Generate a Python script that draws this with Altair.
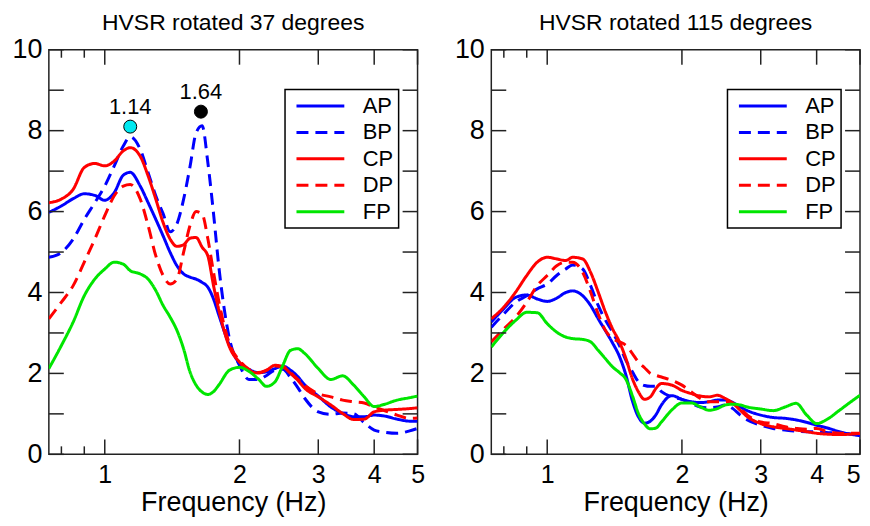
import altair as alt
import pandas as pd

FREQ = [0.75, 0.8, 0.85, 0.9, 0.95, 1.0, 1.05, 1.1, 1.14, 1.2, 1.25, 1.3, 1.35, 1.4,
        1.45, 1.5, 1.55, 1.6, 1.65, 1.7, 1.75, 1.8, 1.9, 2.0, 2.1, 2.2, 2.3, 2.4, 2.5,
        2.6, 2.7, 2.8, 3.0, 3.2, 3.4, 3.6, 3.8, 4.0, 4.2, 4.5, 4.8, 5.0]

SERIES = ["AP", "BP", "CP", "DP", "FP"]
COLORS = ["#0000ff", "#0000ff", "#ff0000", "#ff0000", "#00e600"]
DASHES = [[1, 0], [12, 7], [1, 0], [12, 7], [1, 0]]

# HVSR rotated 37 degrees
AP_37 = [5.98, 6.14, 6.32, 6.44, 6.40, 6.28, 6.47, 6.90, 6.97, 6.63, 6.22, 5.81, 5.40, 4.99,
         4.66, 4.46, 4.38, 4.33, 4.25, 4.13, 3.84, 3.43, 2.69, 2.25, 2.10, 2.02, 2.04, 2.12, 2.18,
         2.08, 1.92, 1.71, 1.44, 1.17, 1.01, 0.93, 0.93, 0.97, 0.95, 0.87, 0.82, 0.82]
BP_37 = [4.87, 4.99, 5.32, 5.81, 6.22, 6.63, 7.13, 7.62, 7.85, 7.54, 6.96, 6.39, 5.95, 5.50,
         5.70, 6.30, 7.10, 7.95, 8.12, 7.20, 5.95, 4.60, 2.85, 2.20, 1.85, 1.85, 1.95, 2.08, 2.10,
         1.90, 1.65, 1.38, 1.05, 0.99, 1.02, 1.00, 0.78, 0.60, 0.55, 0.52, 0.58, 0.64]
CP_37 = [6.22, 6.31, 6.55, 7.09, 7.19, 7.13, 7.25, 7.50, 7.58, 7.37, 6.88, 6.31, 5.73, 5.32,
         5.14, 5.18, 5.34, 5.36, 5.12, 4.90, 4.17, 3.55, 2.65, 2.28, 2.08, 2.01, 2.08, 2.20, 2.16,
         2.00, 1.83, 1.63, 1.42, 1.22, 1.01, 0.86, 0.87, 1.05, 1.09, 1.11, 1.13, 1.15]
DP_37 = [3.35, 3.76, 4.17, 4.75, 5.32, 5.90, 6.39, 6.63, 6.67, 6.31, 5.65, 4.91, 4.42, 4.21,
         4.33, 4.99, 5.65, 6.00, 5.94, 5.32, 4.50, 3.76, 2.73, 2.32, 2.10, 2.02, 2.08, 2.18, 2.17,
         2.02, 1.85, 1.70, 1.50, 1.42, 1.34, 1.30, 1.27, 1.17, 1.09, 0.97, 0.89, 0.90]
FP_37 = [2.12, 2.69, 3.27, 3.92, 4.33, 4.58, 4.75, 4.70, 4.54, 4.46, 4.33, 4.05, 3.68, 3.39,
         3.06, 2.61, 2.04, 1.71, 1.54, 1.48, 1.55, 1.72, 2.08, 2.15, 2.05, 1.87, 1.68, 1.79, 2.20,
         2.57, 2.61, 2.49, 2.12, 1.85, 1.94, 1.71, 1.42, 1.18, 1.23, 1.34, 1.40, 1.44]

# HVSR rotated 115 degrees
AP_115 = [3.27, 3.60, 3.88, 3.94, 3.84, 3.78, 3.86, 4.00, 4.04, 3.92, 3.68, 3.35, 3.05, 2.75,
          2.42, 1.95, 1.32, 0.92, 0.77, 0.82, 0.98, 1.22, 1.45, 1.36, 1.30, 1.28, 1.30, 1.34, 1.34,
          1.28, 1.17, 1.08, 0.97, 0.91, 0.89, 0.85, 0.79, 0.72, 0.66, 0.56, 0.49, 0.46]
BP_115 = [3.14, 3.47, 3.76, 3.92, 4.09, 4.21, 4.42, 4.58, 4.68, 4.58, 4.17, 3.68, 3.31, 3.02,
          2.69, 2.32, 2.04, 1.79, 1.70, 1.68, 1.68, 1.55, 1.42, 1.36, 1.26, 1.17, 1.15, 1.17, 1.22,
          1.13, 0.97, 0.85, 0.72, 0.64, 0.60, 0.57, 0.56, 0.56, 0.54, 0.52, 0.50, 0.48]
CP_115 = [3.35, 3.64, 4.01, 4.42, 4.75, 4.87, 4.83, 4.79, 4.87, 4.83, 4.50, 4.01, 3.51, 3.10,
          2.78, 2.36, 1.87, 1.54, 1.36, 1.42, 1.63, 1.75, 1.71, 1.58, 1.50, 1.44, 1.42, 1.46, 1.38,
          1.26, 1.09, 0.93, 0.76, 0.68, 0.64, 0.60, 0.56, 0.52, 0.50, 0.49, 0.50, 0.52]
DP_115 = [2.78, 3.10, 3.39, 3.76, 4.17, 4.42, 4.66, 4.75, 4.75, 4.50, 4.01, 3.47, 3.06, 2.86,
          2.78, 2.69, 2.49, 2.28, 2.14, 2.00, 1.95, 1.91, 1.83, 1.71, 1.54, 1.38, 1.30, 1.30, 1.30,
          1.26, 1.13, 0.97, 0.80, 0.76, 0.68, 0.64, 0.62, 0.64, 0.57, 0.52, 0.52, 0.52]
FP_115 = [2.65, 3.02, 3.31, 3.51, 3.50, 3.23, 3.02, 2.90, 2.86, 2.84, 2.78, 2.57, 2.36, 2.16,
          2.02, 1.85, 1.45, 1.00, 0.75, 0.63, 0.65, 0.80, 1.10, 1.27, 1.27, 1.17, 1.09, 1.13, 1.22,
          1.24, 1.22, 1.17, 1.12, 1.08, 1.17, 1.26, 0.97, 0.76, 0.85, 1.09, 1.32, 1.46]

PEAK_F = [1.14, 1.64]
PEAK_V = [8.10, 8.47]
PEAK_TEXT = ["1.14", "1.64"]
PEAK_FILL = ["#00e8f0", "#000000"]

X_MAJOR = [1, 2, 3, 4, 5]
X_MINOR = [0.8, 0.9]
Y_TICKS = [0, 1, 2, 3, 4, 5, 6, 7, 8, 9, 10]
Y_LABELS = [0, 2, 4, 6, 8, 10]

FONT = "Liberation Sans"
FRAME = "#222222"
W, H = 370, 406


def panel(vals, title, peaks, flush):
    rows = []
    for s, arr in zip(SERIES, vals):
        for f, v in zip(FREQ, arr):
            rows.append({"f": f, "v": v, "series": s})
    df = pd.DataFrame(rows)

    xs = alt.Scale(type="log", domain=[0.75, 5], nice=False)
    ys = alt.Scale(domain=[0, 10], nice=False, zero=False)
    xaxis = alt.Axis(
        values=X_MAJOR, format="~g", title="Frequency (Hz)", ticks=False, tickSize=0,
        domain=False, grid=False, labelFontSize=25, labelPadding=8, labelColor="black",
        labelFont=FONT, titleFont=FONT, titleFontSize=27, titleFontWeight="normal",
        titleColor="black", titlePadding=2, labelOverlap=False, labelFlush=flush)
    yaxis = alt.Axis(
        values=Y_LABELS, title=None, ticks=False, tickSize=0, domain=False, grid=False,
        labelFontSize=27, labelPadding=7, labelColor="black", labelFont=FONT)

    def X(field="f"):
        return alt.X(field + ":Q", scale=xs, axis=xaxis)

    def Y(field="v"):
        return alt.Y(field + ":Q", scale=ys, axis=yaxis)

    legend = alt.Legend(
        title=None, orient="none", legendX=237, legendY=40,
        strokeColor="black", fillColor="white", padding=5,
        symbolType="M-0.5,0H4.3", symbolSize=400, symbolStrokeWidth=3,
        labelFontSize=22, labelOffset=50, rowPadding=3.5, labelColor="black",
        labelFont=FONT,
    )

    lines = alt.Chart(df).mark_line(strokeWidth=3, interpolate="monotone", clip=True).encode(
        x=X(), y=Y(),
        color=alt.Color("series:N", scale=alt.Scale(domain=SERIES, range=COLORS), legend=legend),
        strokeDash=alt.StrokeDash("series:N", scale=alt.Scale(domain=SERIES, range=DASHES),
                                  legend=legend),
    )

    xt = pd.DataFrame({"f": X_MAJOR})
    xm = pd.DataFrame({"f": X_MINOR})
    yt = pd.DataFrame({"v": Y_TICKS})

    def xrule(d, a, b):
        return alt.Chart(d).mark_rule(color=FRAME, strokeWidth=1.5).encode(
            x=X(), y=alt.value(a), y2=alt.value(b))

    def yrule(a, b):
        return alt.Chart(yt).mark_rule(color=FRAME, strokeWidth=1.5).encode(
            y=Y(), x=alt.value(a), x2=alt.value(b))

    layers = [
        lines,
        xrule(xt, 0, 15), xrule(xt, H, H - 15),
        xrule(xm, 0, 8), xrule(xm, H, H - 8),
        yrule(0, 15), yrule(W - 15, W),
    ]

    if peaks:
        pk = pd.DataFrame({"f": PEAK_F, "v": PEAK_V, "t": PEAK_TEXT, "c": PEAK_FILL})
        layers.append(alt.Chart(pk).mark_circle(size=170, stroke="black", strokeWidth=1,
                                                opacity=1).encode(
            x=X(), y=Y(), fill=alt.Fill("c:N", scale=None)))
        layers.append(alt.Chart(pk).mark_text(dy=-13, fontSize=22, font=FONT, color="black",
                                              baseline="alphabetic", align="center").encode(
            x=X(), y=Y(), text="t:N"))

    return alt.layer(*layers).properties(
        width=W, height=H,
        title=alt.TitleParams(title, fontSize=23, fontWeight="normal", font=FONT,
                              color="black", offset=1, anchor="middle"),
    )


left = panel([AP_37, BP_37, CP_37, DP_37, FP_37], "HVSR rotated 37 degrees", True, False)
right = panel([AP_115, BP_115, CP_115, DP_115, FP_115], "HVSR rotated 115 degrees", False, True)

chart = alt.hconcat(left, right, spacing=74, bounds="flush").resolve_scale(
    color="independent", strokeDash="independent"
).properties(
    padding={"left": 3, "top": 2, "right": 0, "bottom": 0}
).configure(
    font=FONT
).configure_view(
    stroke=FRAME, strokeWidth=1.5
).configure_legend(
    strokeWidth=1.5
)

chart.save("out.html", embed_options={"renderer": "svg", "actions": False})
